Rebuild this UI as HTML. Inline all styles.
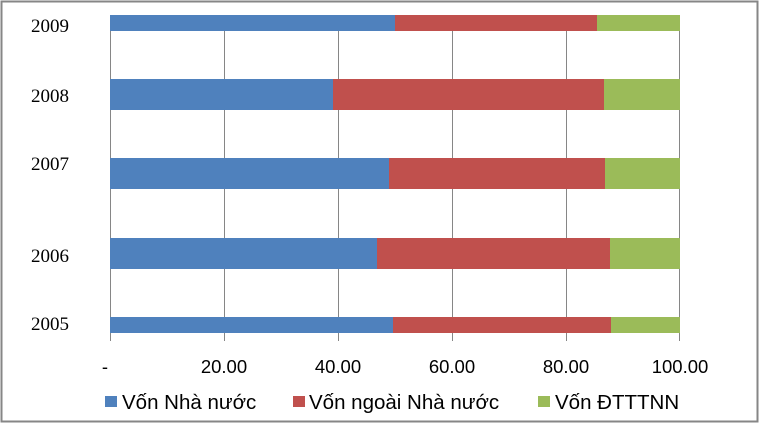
<!DOCTYPE html>
<html><head><style>
body{margin:0;width:760px;height:424px;background:#fff;overflow:hidden}
</style></head><body>
<svg width="760" height="424" xmlns="http://www.w3.org/2000/svg">
<rect x="1.5" y="1.5" width="756" height="420" fill="#fff" stroke="#868686" stroke-width="2"/>
<g stroke="#868686" stroke-width="1">
<line x1="110.5" y1="31" x2="110.5" y2="341"/>
<line x1="224.5" y1="31" x2="224.5" y2="341"/>
<line x1="338.5" y1="31" x2="338.5" y2="341"/>
<line x1="452.5" y1="31" x2="452.5" y2="341"/>
<line x1="566.5" y1="31" x2="566.5" y2="341"/>
<line x1="679.5" y1="31" x2="679.5" y2="341"/>
</g>
<g>
<rect x="110" y="15" width="285" height="16" fill="#4f81bd"/><rect x="395" y="15" width="202" height="16" fill="#c0504d"/><rect x="597" y="15" width="83" height="16" fill="#9bbb59"/>
<rect x="110" y="79" width="223" height="31" fill="#4f81bd"/><rect x="333" y="79" width="271" height="31" fill="#c0504d"/><rect x="604" y="79" width="76" height="31" fill="#9bbb59"/>
<rect x="110" y="158" width="279" height="31" fill="#4f81bd"/><rect x="389" y="158" width="216" height="31" fill="#c0504d"/><rect x="605" y="158" width="75" height="31" fill="#9bbb59"/>
<rect x="110" y="238" width="267" height="31" fill="#4f81bd"/><rect x="377" y="238" width="233" height="31" fill="#c0504d"/><rect x="610" y="238" width="70" height="31" fill="#9bbb59"/>
<rect x="110" y="317" width="283" height="16" fill="#4f81bd"/><rect x="393" y="317" width="218" height="16" fill="#c0504d"/><rect x="611" y="317" width="69" height="16" fill="#9bbb59"/>
</g>
<g font-family="Liberation Serif, serif" font-size="19" fill="#000" text-anchor="start">
<text x="31" y="32">2009</text>
<text x="31" y="102">2008</text>
<text x="31" y="170">2007</text>
<text x="31" y="262">2006</text>
<text x="31" y="330">2005</text>
</g>
<g font-family="Liberation Sans, sans-serif" font-size="18.5" fill="#000" text-anchor="middle">
<text x="105" y="373">-</text>
<text x="224" y="373">20.00</text>
<text x="338" y="373">40.00</text>
<text x="452" y="373">60.00</text>
<text x="566" y="373">80.00</text>
<text x="680" y="373">100.00</text>
</g>
<rect x="105" y="396" width="12" height="11" fill="#4f81bd"/>
<rect x="293" y="396" width="12" height="11" fill="#c0504d"/>
<rect x="538" y="396" width="12" height="11" fill="#9bbb59"/>
<g font-family="Liberation Sans, sans-serif" font-size="20.5" fill="#000">
<text x="122" y="409">Vốn Nhà nước</text>
<text x="309" y="409">Vốn ngoài Nhà nước</text>
<text x="555" y="409">Vốn ĐTTTNN</text>
</g>
</svg>
</body></html>
